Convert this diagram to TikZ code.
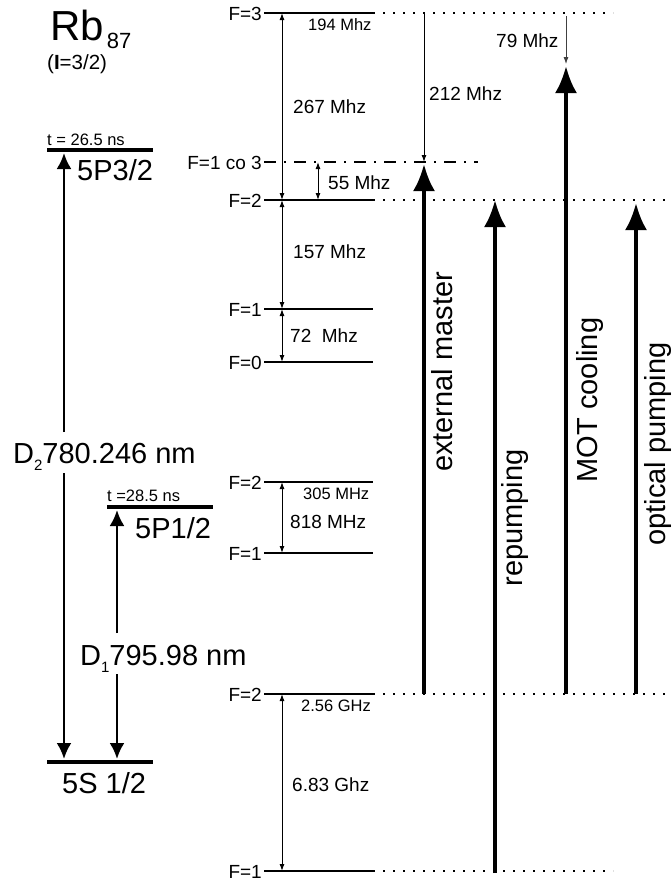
\documentclass[tikz,border=0pt]{standalone}
\usepackage{fontspec}
\setmainfont{Liberation Sans}
\usetikzlibrary{arrows.meta}
\newcommand{\fs}[1]{\fontsize{#1}{#1}\selectfont}
\begin{document}
\begin{tikzpicture}[x=1pt,y=-1pt,
  lvl/.style={line width=2.5pt},
  extline/.style={line width=2pt, dash pattern=on 2pt off 8pt},
  dashdotline/.style={line width=2pt, dash pattern=on 12pt off 8pt on 2pt off 8pt},
  bar/.style={line width=4.5pt},
  thinboth/.style={line width=1pt, {Latex[length=7pt,width=5pt]}-{Latex[length=7pt,width=5pt]}},
  thinone/.style={line width=1pt, -{Latex[length=7pt,width=5pt]}},
  laser/.style={line width=4pt, -{Latex[length=27pt,width=22pt]}},
  dline/.style={line width=2.5pt, -{Latex[length=16pt,width=15pt]}},
  flab/.style={anchor=base east, inner sep=0pt, font=\fs{19}},
  txt/.style={anchor=base west, inner sep=0pt, font=\fs{19}},
  smalltxt/.style={anchor=base west, inner sep=0pt, font=\fs{16.5}},
  bigtxt/.style={anchor=base west, inner sep=0pt, font=\fs{29}},
  rottxt/.style={rotate=90, anchor=base, inner sep=0pt, font=\fs{29}}
]
\useasboundingbox (0,0) rectangle (672,881);
\clip (0,0) rectangle (672,881);

% ---------- left: fine structure ----------
\node[anchor=base west, inner sep=0pt] (rb) at (50,40) {\fs{42}Rb\hspace{3pt}\raisebox{-8pt}{\fs{22}87}};
\node[anchor=base west, inner sep=0pt, font=\fs{20.5}] (spin) at (47,69) {(\textbf{I}=3/2)};

\coordinate (p3l) at (47,150); \coordinate (p3r) at (153,150);
\coordinate (p1l) at (107,507); \coordinate (p1r) at (213,507);
\coordinate (sl) at (47,762); \coordinate (sr) at (153,762);
\draw[bar] (p3l) -- (p3r);
\draw[bar] (p1l) -- (p1r);
\draw[bar] (sl) -- (sr);

\node[smalltxt] (tau3) at (47,145) {t = 26.5 ns};
\node[bigtxt] (n5p3) at (77,180) {5P3/2};
\node[smalltxt] (tau1) at (107,501) {t =28.5 ns};
\node[bigtxt] (n5p1) at (135,538) {5P1/2};
\node[bigtxt] (n5s) at (62,793) {5S 1/2};

\node[bigtxt] (d2) at (13,463) {D\raisebox{-7pt}{\fs{15}2}780.246 nm};
\node[bigtxt] (d1) at (80,665) {D\raisebox{-7pt}{\fs{15}1}795.98 nm};

\coordinate (d2top) at (64,153); \coordinate (d2a) at (64,432);
\coordinate (d2b) at (64,473); \coordinate (d2bot) at (64,759);
\coordinate (d1top) at (117,510); \coordinate (d1a) at (117,633);
\coordinate (d1b) at (117,674); \coordinate (d1bot) at (117,759);
\draw[dline] (d2a) -- (d2top);
\draw[dline] (d2b) -- (d2bot);
\draw[dline] (d1a) -- (d1top);
\draw[dline] (d1b) -- (d1bot);

% ---------- right: hyperfine levels ----------
% 5P3/2
\coordinate (f3a) at (264,13);  \coordinate (f3b) at (373,13);  \coordinate (f3c) at (613,13);
\coordinate (fca) at (264,162); \coordinate (fcb) at (478,162);
\coordinate (f2a) at (264,200); \coordinate (f2b) at (373,200); \coordinate (f2c) at (672,200);
\coordinate (f1a) at (264,309); \coordinate (f1b) at (373,309);
\coordinate (f0a) at (264,362); \coordinate (f0b) at (373,362);
% 5P1/2
\coordinate (g2a) at (264,482); \coordinate (g2b) at (373,482);
\coordinate (g1a) at (264,553); \coordinate (g1b) at (373,553);
% 5S1/2
\coordinate (s2a) at (264,694); \coordinate (s2b) at (373,694); \coordinate (s2c) at (672,694);
\coordinate (s1a) at (264,871); \coordinate (s1b) at (373,871); \coordinate (s1c) at (613,871);

\draw[lvl] (f3a) -- (f3b);
\draw[extline] (f3b) -- (f3c);
\draw[dashdotline] (fca) -- (fcb);
\draw[lvl] (f2a) -- (f2b);
\draw[extline] (f2b) -- (f2c);
\draw[lvl] (f1a) -- (f1b);
\draw[lvl] (f0a) -- (f0b);
\draw[lvl] (g2a) -- (g2b);
\draw[lvl] (g1a) -- (g1b);
\draw[lvl] (s2a) -- (s2b);
\draw[extline] (s2b) -- (s2c);
\draw[lvl] (s1a) -- (s1b);
\draw[extline] (s1b) -- (s1c);

\node[flab] (lf3) at (262,20) {F=3};
\node[flab] (lfc) at (262,169) {F=1 co 3};
\node[flab] (lf2) at (262,207) {F=2};
\node[flab] (lf1) at (262,316) {F=1};
\node[flab] (lf0) at (262,369) {F=0};
\node[flab] (lg2) at (262,489) {F=2};
\node[flab] (lg1) at (262,560) {F=1};
\node[flab] (ls2) at (262,701) {F=2};
\node[flab] (ls1) at (262,878) {F=1};

% interval arrows
\coordinate (a1) at (282,13);  \coordinate (a2) at (282,200);
\coordinate (a3) at (282,309); \coordinate (a4) at (282,362);
\coordinate (a5) at (282,482); \coordinate (a6) at (282,553);
\coordinate (a7) at (282,694); \coordinate (a8) at (282,871);
\coordinate (b1) at (318,162); \coordinate (b2) at (318,200);
\coordinate (c1) at (424,14);  \coordinate (c2) at (424,162);
\coordinate (e1) at (566,16);  \coordinate (e2) at (566,64);
\draw[thinboth] (a1) -- (a2);
\draw[thinboth] (a2) -- (a3);
\draw[thinboth] (a3) -- (a4);
\draw[thinboth] (a5) -- (a6);
\draw[thinboth] (a7) -- (a8);
\draw[thinboth] (b1) -- (b2);
\draw[thinone] (c1) -- (c2);
\draw[thinone, line width=0.8pt, black!75] (e1) -- (e2);

\node[smalltxt] (t194) at (308,30) {194 Mhz};
\node[txt] (t267) at (293,113) {267 Mhz};
\node[txt] (t212) at (429,100) {212 Mhz};
\node[txt] (t79) at (496,47) {79 Mhz};
\node[txt] (t55) at (328,189) {55 Mhz};
\node[txt] (t157) at (293,258) {157 Mhz};
\node[txt] (t72) at (290,342) {72\ \ Mhz};
\node[smalltxt] (t305) at (303,499) {305 MHz};
\node[txt] (t818) at (290,528) {818 MHz};
\node[smalltxt] (t256) at (301,711) {2.56 GHz};
\node[txt] (t683) at (292,791) {6.83 Ghz};

% laser arrows
\coordinate (m1) at (424,694); \coordinate (m2) at (424,164);
\coordinate (r1) at (495,873); \coordinate (r2) at (495,200);
\coordinate (k1) at (566,694); \coordinate (k2) at (566,66);
\coordinate (o1) at (636,694); \coordinate (o2) at (636,203);
\draw[laser] (m1) -- (m2);
\draw[laser] (r1) -- (r2);
\draw[laser] (k1) -- (k2);
\draw[laser] (o1) -- (o2);

\node[rottxt] (lm) at (452,372) {external master};
\node[rottxt] (lr) at (522,518) {repumping};
\node[rottxt] (lk) at (597,400) {MOT cooling};
\node[rottxt] (lo) at (665,444) {optical pumping};
\end{tikzpicture}
\end{document}
